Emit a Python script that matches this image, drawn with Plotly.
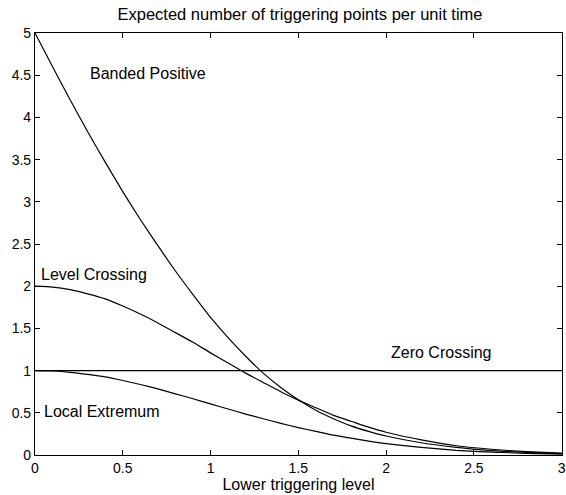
import plotly.graph_objects as go

# Lower triggering level (normalised)
level = [0.0, 0.1, 0.2, 0.3, 0.4, 0.5, 0.6, 0.7, 0.8, 0.9, 1.0, 1.1, 1.2, 1.3,
         1.4, 1.5, 1.6, 1.7, 1.8, 1.9, 2.0, 2.2, 2.4, 2.6, 2.8, 3.0]

# Expected number of triggering points per unit time, one list per method
banded_positive = [5.00, 4.60, 4.21, 3.83, 3.47, 3.12, 2.79, 2.48, 2.18, 1.90,
                   1.63, 1.39, 1.17, 0.97, 0.80, 0.655, 0.53, 0.43, 0.345, 0.28,
                   0.225, 0.145, 0.09, 0.053, 0.03, 0.016]
level_crossing = [2.00, 1.99, 1.96, 1.91, 1.85, 1.765, 1.67, 1.565, 1.45, 1.335,
                  1.21, 1.09, 0.97, 0.86, 0.75, 0.65, 0.56, 0.47, 0.40, 0.33,
                  0.27, 0.18, 0.11, 0.068, 0.04, 0.022]
zero_crossing = [1.0] * len(level)
local_extremum = [1.00, 0.995, 0.98, 0.955, 0.925, 0.883, 0.835, 0.783, 0.725,
                  0.667, 0.605, 0.545, 0.485, 0.43, 0.375, 0.325, 0.28, 0.235,
                  0.20, 0.165, 0.135, 0.09, 0.055, 0.034, 0.02, 0.011]

x_ticks = [0, 0.5, 1, 1.5, 2, 2.5, 3]
x_tick_text = ["0", "0.5", "1", "1.5", "2", "2.5", "3"]
y_ticks = [0, 0.5, 1, 1.5, 2, 2.5, 3, 3.5, 4, 4.5, 5]
y_tick_text = ["0", "0.5", "1", "1.5", "2", "2.5", "3", "3.5", "4", "4.5", "5"]

# Curve labels: (text, x, y)
labels = [
    ("Banded Positive", 0.30, 4.52),
    ("Level Crossing", 0.025, 2.14),
    ("Zero Crossing", 2.015, 1.22),
    ("Local Extremum", 0.04, 0.51),
]

FONT = "Liberation Sans, Arial, Helvetica, sans-serif"
line_style = dict(color="black", width=1.2, shape="spline", smoothing=0.5)

fig = go.Figure()
for name, ys in [("Banded Positive", banded_positive),
                 ("Level Crossing", level_crossing),
                 ("Zero Crossing", zero_crossing),
                 ("Local Extremum", local_extremum)]:
    fig.add_trace(go.Scatter(x=level, y=ys, mode="lines", name=name,
                             line=line_style, hoverinfo="skip"))

for text, x, y in labels:
    fig.add_annotation(x=x, y=y, text=text, showarrow=False, xanchor="left",
                       yanchor="middle", font=dict(family=FONT, size=16, color="black"))

axis_common = dict(showline=True, linecolor="black", linewidth=1.2, mirror="ticks",
                   ticks="inside", ticklen=5, tickcolor="black", tickwidth=1,
                   showgrid=False, zeroline=False, ticklabeloverflow="allow",
                   tickfont=dict(family=FONT, size=14, color="black"))

fig.update_layout(
    width=566, height=495,
    margin=dict(l=35, r=0, t=33, b=40),
    paper_bgcolor="white", plot_bgcolor="white",
    showlegend=False,
    title=dict(text="Expected number of triggering points per unit time",
               x=0.53, xanchor="center", y=0.972, yanchor="middle",
               font=dict(family=FONT, size=16.5, color="black")),
    xaxis=dict(axis_common, range=[0, 3.002], tickvals=x_ticks, ticktext=x_tick_text,
               title=dict(text="Lower triggering level", standoff=1,
                          font=dict(family=FONT, size=16, color="black"))),
    yaxis=dict(axis_common, range=[0, 5], tickvals=y_ticks, ticktext=y_tick_text),
)

fig.write_html("out.html")
